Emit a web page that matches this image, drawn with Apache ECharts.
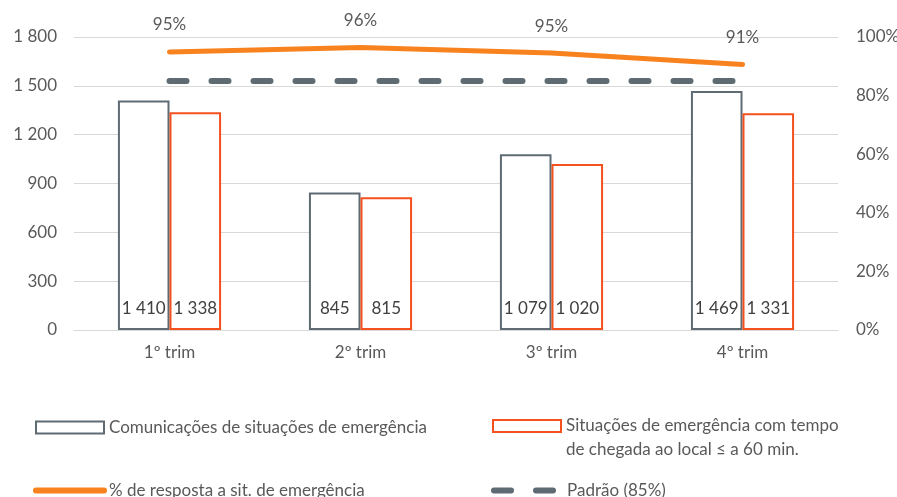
<!DOCTYPE html>
<html>
<head>
<meta charset="utf-8">
<script src="https://cdn.jsdelivr.net/npm/echarts@6/dist/echarts.min.js"></script>
<style>
  html, body { margin: 0; padding: 0; background: #fff; }
  #chart { width: 897px; height: 497px; }
</style>
</head>
<body>
<div id="chart"></div>
<script>
// dados por trimestre
const trimestres = ["1º trim", "2º trim", "3º trim", "4º trim"];
const comunicacoes = [1410, 845, 1079, 1469];
const situacoes60 = [1338, 815, 1020, 1331];
const percResposta = [94.9, 96.4, 94.5, 90.6];
const padrao = [85, 85, 85, 85];

const nomes = {
  com: "Comunicações de situações de emergência",
  sit: "Situações de emergência com tempo de chegada ao local ≤ a 60 min.",
  perc: "% de resposta a sit. de emergência",
  pad: "Padrão (85%)"
};

const txt = "#595959";
const font = "Lato";
const fs = 17;
const cinza = "#5f6b73";
const laranjaBar = "#f4511e";
const laranjaLinha = "#f7821e";

const fmtNum = v => String(v).replace(/\B(?=(\d{3})+(?!\d))/g, " ");

const legendaBase = {
  orient: "vertical",
  itemWidth: 68,
  itemHeight: 12,
  itemGap: 5,
  selectedMode: false,
  textStyle: { color: txt, fontFamily: font, fontSize: fs }
};

const chart = echarts.init(document.getElementById("chart"), null, { renderer: "canvas" });

chart.setOption({
  animation: false,
  grid: { left: 74, right: 59, top: 37, bottom: 167, outerBoundsMode: "none", containLabel: false },
  legend: [
    Object.assign({}, legendaBase, {
      left: 30, top: 414, icon: "rect",
      data: [{ name: nomes.com }]
    }),
    Object.assign({}, legendaBase, {
      left: 487, top: 385, icon: "rect",
      data: [{ name: nomes.sit }],
      // linha vazia em cima para alinhar o ícone com a 1ª linha
      formatter: () => " \nSituações de emergência com tempo\nde chegada ao local ≤ a 60 min.",
      textStyle: { color: txt, fontFamily: font, fontSize: fs, lineHeight: 24 }
    }),
    Object.assign({}, legendaBase, {
      left: 28, top: 477,
      data: [{ name: nomes.perc, itemStyle: { opacity: 0 }, lineStyle: { width: 6, cap: "round" } }]
    }),
    Object.assign({}, legendaBase, {
      left: 486, top: 477,
      data: [{ name: nomes.pad, itemStyle: { opacity: 0 }, lineStyle: { width: 6, cap: "round", type: [17, 25] } }]
    })
  ],
  xAxis: {
    type: "category",
    data: trimestres,
    axisTick: { show: false },
    axisLine: { lineStyle: { color: "#d9d9d9", width: 1 } },
    axisLabel: { color: txt, fontFamily: font, fontSize: fs, margin: 14 }
  },
  yAxis: [
    {
      type: "value",
      min: 0, max: 1800, interval: 300,
      axisLabel: { color: txt, fontFamily: font, fontSize: fs, margin: 17, formatter: fmtNum },
      splitLine: { lineStyle: { color: "#d9d9d9" } }
    },
    {
      type: "value",
      min: 0, max: 100, interval: 20,
      axisLabel: { color: txt, fontFamily: font, fontSize: fs, margin: 18, formatter: "{value}%" },
      splitLine: { show: false }
    }
  ],
  series: [
    {
      name: nomes.com,
      type: "bar",
      data: comunicacoes,
      barWidth: "27%",
      barGap: "0%",
      itemStyle: { color: "#fff", borderColor: cinza, borderWidth: 2 },
      label: {
        show: true, position: "insideBottom", distance: 13,
        color: "#404040", fontFamily: font, fontSize: fs,
        formatter: p => fmtNum(p.value)
      }
    },
    {
      name: nomes.sit,
      type: "bar",
      data: situacoes60,
      barWidth: "27%",
      itemStyle: { color: "#fff", borderColor: laranjaBar, borderWidth: 2 },
      label: {
        show: true, position: "insideBottom", distance: 13,
        color: "#404040", fontFamily: font, fontSize: fs,
        formatter: p => fmtNum(p.value)
      }
    },
    {
      name: nomes.perc,
      type: "line",
      yAxisIndex: 1,
      data: percResposta,
      symbol: "circle",
      symbolSize: 1,
      z: 4,
      lineStyle: { color: laranjaLinha, width: 5, cap: "round" },
      itemStyle: { color: laranjaLinha },
      label: {
        show: true, position: "top", distance: 18,
        color: txt, fontFamily: font, fontSize: fs,
        formatter: p => Math.round(p.value) + "%"
      }
    },
    {
      name: nomes.pad,
      type: "line",
      yAxisIndex: 1,
      data: padrao,
      symbol: "none",
      z: 3,
      lineStyle: { color: cinza, width: 6, cap: "round", type: [17, 25] },
      itemStyle: { color: cinza }
    }
  ]
});
</script>
</body>
</html>
